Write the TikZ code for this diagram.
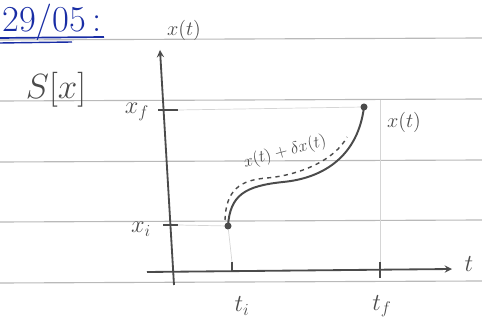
\documentclass[tikz,border=0pt]{standalone}
\definecolor{pencil}{RGB}{75,75,75}
\definecolor{ink}{RGB}{25,45,165}
\definecolor{ruling}{RGB}{185,185,185}
\tikzset{
  lbl/.style={text=pencil, font=\LARGE, inner sep=1pt},
  dot/.style={circle, fill=pencil, inner sep=0pt, minimum size=5pt},
  guide/.style={draw=ruling!60, line width=0.5pt},
  axis/.style={draw=pencil, line width=1.3pt},
  tick/.style={draw=pencil, line width=1pt},
}
\begin{document}
\begin{tikzpicture}[x=0.025cm, y=-0.025cm, >=stealth]
\useasboundingbox (0,0) rectangle (482,326);
% ruled paper
\foreach \y in {40,101,162,222,283}
  \draw[ruling, line width=0.8pt] (0,\y) -- (482,\y-2);
% date heading
\node[text=ink, font=\fontsize{26}{30}\selectfont, anchor=base west, inner sep=0pt] (date) at (2,32) {29/05\,:};
\draw[ink, line width=1.2pt] (0,38) -- (104,37);
\draw[ink, line width=1pt] (0,43) -- (72,42);
% functional
\node[lbl, font=\fontsize{32}{36}\selectfont] (action) at (56,90) {$S[x]$};
% axes
\coordinate (ybot) at (174,285);
\coordinate (ytop) at (160,50);
\coordinate (xleft) at (147,272);
\coordinate (xright) at (452,269);
\draw[axis, ->] (ybot) -- (ytop);
\draw[axis, ->] (xleft) -- (xright);
\node[lbl, font=\Large] (ylab) at (184,30) {$x(t)$};
\node[lbl] (tlab) at (469,264) {$t$};
% ticks
\coordinate (xfl) at (158,110); \coordinate (xfr) at (178,110);
\coordinate (xil) at (163,225); \coordinate (xir) at (178,225);
\coordinate (tit) at (232,262); \coordinate (tib) at (232,272);
\coordinate (tft) at (380,262); \coordinate (tfb) at (380,278);
\draw[tick] (xfl) -- (xfr);
\draw[tick] (xil) -- (xir);
\draw[tick] (tit) -- (tib);
\draw[tick] (tft) -- (tfb);
\node[lbl] (xflab) at (137,112) {$x_f$};
\node[lbl] (xilab) at (141,229) {$x_i$};
\node[lbl] (tilab) at (242,306) {$t_i$};
\node[lbl] (tflab) at (382,306) {$t_f$};
% end points
\node[dot] (xi) at (228,226) {};
\node[dot] (xf) at (364,107) {};
% guide lines
\coordinate (tfup) at (380,100);
\draw[guide] (xfr) -- (xf);
\draw[guide] (xir) -- (xi);
\draw[guide] (xi) -- (tit);
\draw[guide] (tfup) -- (tft);
% classical path
\draw[pencil, line width=1.4pt] (xi.center) .. controls (230,195) and (245,186) .. (283,182)
  .. controls (325,178) and (358,155) .. (xf.center);
\node[lbl, font=\Large] (xlab) at (404,122) {$x(t)$};
% varied path
\coordinate (va) at (225,220);
\coordinate (vb) at (347,137);
\draw[pencil, line width=1pt, dash pattern=on 3pt off 3pt] (va) .. controls (226,190) and (240,180) .. (267,178)
  .. controls (300,175) and (335,160) .. (vb);
\node[lbl, font=\large, rotate=15] (varlab) at (285,152) {$x(t)+\delta x(t)$};
\end{tikzpicture}
\end{document}
